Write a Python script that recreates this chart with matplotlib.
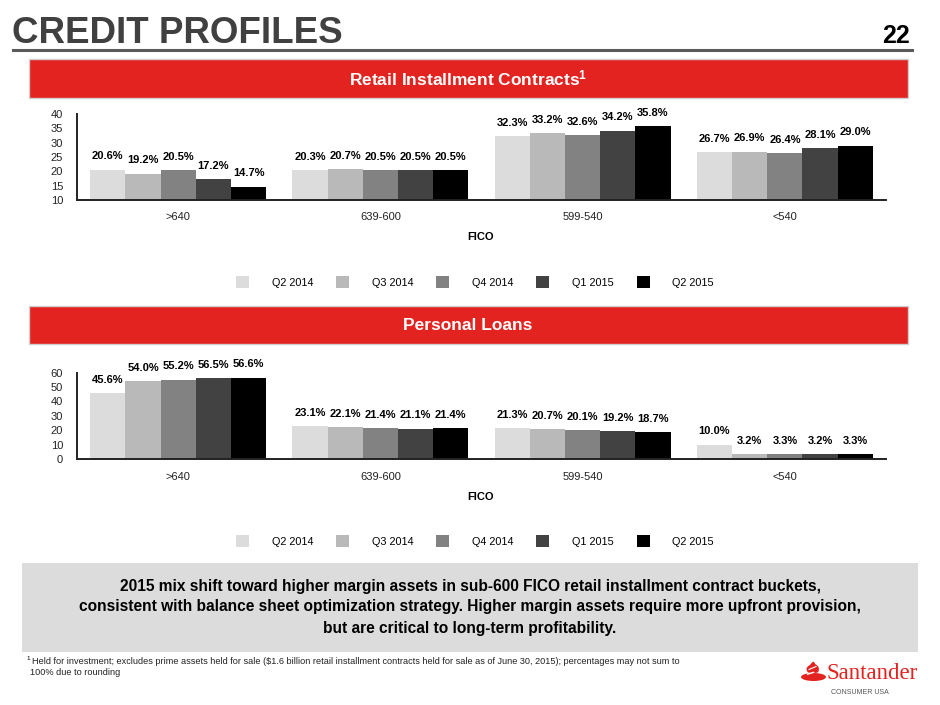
import numpy as np
import matplotlib
matplotlib.use("Agg")
import matplotlib.pyplot as plt
from matplotlib.patches import Rectangle, Ellipse, PathPatch
from matplotlib.path import Path
from matplotlib.lines import Line2D

plt.rcParams['font.family'] = ['Liberation Sans', 'DejaVu Sans']
plt.rcParams['mathtext.default'] = 'regular'

fico_buckets = ['>640', '639-600', '599-540', '<540']
quarters = ['Q2 2014', 'Q3 2014', 'Q4 2014', 'Q1 2015', 'Q2 2015']
quarter_colors = ['#DCDCDC', '#B9B9B9', '#828282', '#424242', '#000000']

# Retail installment contracts, % by FICO bucket
ric_q2_2014 = [20.6, 20.3, 32.3, 26.7]
ric_q3_2014 = [19.2, 20.7, 33.2, 26.9]
ric_q4_2014 = [20.5, 20.5, 32.6, 26.4]
ric_q1_2015 = [17.2, 20.5, 34.2, 28.1]
ric_q2_2015 = [14.7, 20.5, 35.8, 29.0]

# Personal loans, % by FICO bucket
pl_q2_2014 = [45.6, 23.1, 21.3, 10.0]
pl_q3_2014 = [54.0, 22.1, 20.7, 3.2]
pl_q4_2014 = [55.2, 21.4, 20.1, 3.3]
pl_q1_2015 = [56.5, 21.1, 19.2, 3.2]
pl_q2_2015 = [56.6, 21.4, 18.7, 3.3]

W, H = 940, 705
RED = '#E2231F'


def fx(px):
    return px / W


def fy(py):
    return 1 - py / H


fig = plt.figure(figsize=(W / 100, H / 100), dpi=100)

# header
fig.text(fx(12), fy(43), 'CREDIT PROFILES', fontsize=26.5, fontweight='bold',
         color='#404040', ha='left', va='baseline')
fig.text(fx(910), fy(43), '22', fontsize=18, fontweight='bold',
         color='black', ha='right', va='baseline')
fig.add_artist(Line2D([fx(13), fx(912)], [fy(50), fy(50)], color='#5a5a5a', lw=2.2))


def banner(top, bottom, label):
    fig.add_artist(Rectangle((fx(29), fy(bottom)), fx(908) - fx(29), (bottom - top) / H,
                             facecolor=RED, edgecolor='#cfcfcf', lw=1))
    fig.text(fx(468), fy((top + bottom) / 2), label, fontsize=12.5, fontweight='bold',
             color='white', ha='center', va='center')


def chart(top, bottom, series, ylim, yticks, fico_y, legend_y):
    ax = fig.add_axes([fx(77), fy(bottom), fx(886) - fx(77), (bottom - top) / H])
    x = np.arange(len(fico_buckets))
    group = 0.87
    width = group / len(series)
    handles = []
    for i, (vals, col, lab) in enumerate(zip(series, quarter_colors, quarters)):
        pos = x - group / 2 + width * (i + 0.5)
        b = ax.bar(pos, vals, width, color=col, linewidth=0, label=lab)
        handles.append(b)
        for p, v in zip(pos, vals):
            ax.annotate(f'{v:.1f}%', (p, v), xytext=(0, 9.5), textcoords='offset points',
                        ha='center', va='center', fontsize=8, fontweight='bold')
    ax.set_xlim(-0.5, len(fico_buckets) - 0.5)
    ax.set_ylim(*ylim)
    ax.set_yticks(yticks)
    ax.set_xticks(x, fico_buckets)
    for s in ['top', 'right']:
        ax.spines[s].set_visible(False)
    for s in ['left', 'bottom']:
        ax.spines[s].set_linewidth(1.4)
        ax.spines[s].set_color('#222222')
    ax.tick_params(length=0, labelsize=8, colors='#222222')
    ax.tick_params(axis='x', pad=9)
    ax.tick_params(axis='y', pad=10)
    fig.text(fx(481), fy(fico_y), 'FICO', fontsize=8, fontweight='bold',
             ha='center', va='center')
    fig.legend(handles=handles, loc='center', bbox_to_anchor=(fx(475), fy(legend_y)),
               ncol=5, frameon=False, fontsize=7.8, handlelength=1.2, handleheight=1.2,
               handletextpad=2.1, columnspacing=2.1)
    return ax


banner(59, 98, 'Retail Installment Contracts$^1$')
chart(114, 200, [ric_q2_2014, ric_q3_2014, ric_q4_2014, ric_q1_2015, ric_q2_2015],
      (10, 40), range(10, 41, 5), 237, 282)

banner(306, 344, 'Personal Loans')
chart(372.7, 459, [pl_q2_2014, pl_q3_2014, pl_q4_2014, pl_q1_2015, pl_q2_2015],
      (0, 60), range(0, 61, 10), 497, 541)

# takeaway box
fig.add_artist(Rectangle((fx(22), fy(652)), fx(918) - fx(22), (652 - 563) / H,
                         facecolor='#DCDCDC', edgecolor='none'))
box_lines = [
    '2015 mix shift toward higher margin assets in sub-600 FICO retail installment contract buckets,',
    'consistent with balance sheet optimization strategy. Higher margin assets require more upfront provision,',
    'but are critical to long-term profitability.',
]
for yy, line in zip([586, 607, 628], box_lines):
    fig.text(fx(470), fy(yy), line, fontsize=11.2, fontweight='bold', ha='center', va='center')

# footnote
fig.text(fx(26), fy(659), '1', fontsize=4.5, ha='left', va='center')
fig.text(fx(32), fy(662), 'Held for investment; excludes prime assets held for sale ($1.6 billion retail '
         'installment contracts held for sale as of June 30, 2015); percentages may not sum to',
         fontsize=6.6, ha='left', va='center', color='#222222')
fig.text(fx(30), fy(672.5), '100% due to rounding', fontsize=6.6, ha='left', va='center', color='#222222')

# logo
fig.text(fx(827), fy(679), 'Santander', fontsize=16.5, color=RED, ha='left', va='baseline',
         family=['Liberation Serif', 'DejaVu Serif'])
fig.text(fx(860), fy(692), 'CONSUMER USA', fontsize=5, color='#555555', ha='center', va='center')
lax = fig.add_axes([fx(801), fy(681), 25 / W, 22 / H])
lax.set_xlim(0, 25)
lax.set_ylim(0, 22)
lax.axis('off')
lax.add_patch(Ellipse((12.5, 4), 25, 8, facecolor=RED, edgecolor='none'))
flame = Path([(7, 8.5), (3, 13), (9, 16), (13, 22), (14, 17), (20, 14), (17, 8.5), (12, 7.5), (7, 8.5)],
             [Path.MOVETO, Path.CURVE3, Path.CURVE3, Path.CURVE3, Path.CURVE3,
              Path.CURVE3, Path.CURVE3, Path.CURVE3, Path.CURVE3])
lax.add_patch(PathPatch(flame, facecolor=RED, edgecolor='none'))
lax.plot([8, 15], [11.5, 14.5], color='white', lw=0.8)
lax.plot([6.5, 12.5], [6.8, 8.6], color='white', lw=1.0)

fig.savefig('out.png', dpi=100)
